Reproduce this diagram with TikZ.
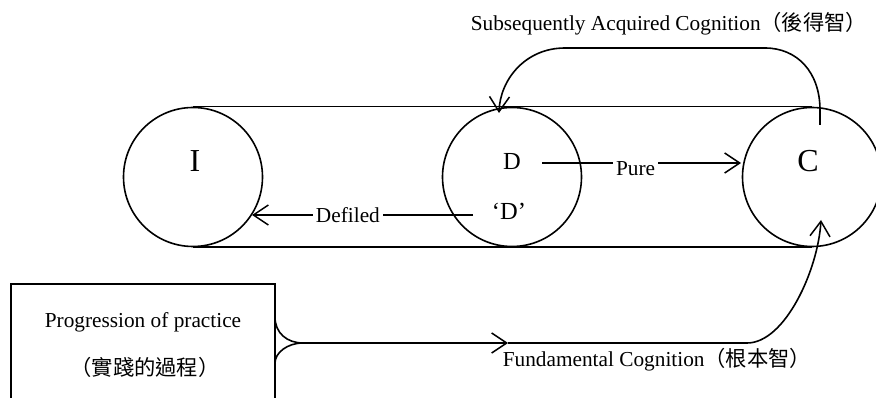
\documentclass[tikz,border=0pt]{standalone}
\usepackage{fontspec}
\setmainfont{Liberation Serif}
\newfontfamily\cjk{Noto Sans CJK TC}
\usetikzlibrary{arrows.meta}
\begin{document}
\begin{tikzpicture}[x=1pt,y=-1pt,
  line width=1.6pt,
  stage/.style={circle, draw, minimum size=139pt, inner sep=0},
  tip/.style={-{Straight Barb[length=15pt,width=20pt,line width=1.5pt]}},
  lbl/.style={font=\fontsize{21.3}{25}\selectfont, inner sep=0},
  bigl/.style={font=\fontsize{32}{36}\selectfont, inner sep=0, anchor=base},
  midl/.style={font=\fontsize{24.5}{28}\selectfont, inner sep=0, anchor=base},
  onl/.style={lbl, fill=white, inner xsep=3pt, inner ysep=1pt},
]
\clip (0,0) rectangle (876,398);

% the three stages and the band joining them
\node[stage] (I) at (193,177) {};
\node[stage] (D) at (512,177) {};
\node[stage] (C) at (812,177) {};
\draw (I.north) -- (C.north);
\draw (I.south) -- (C.south);

\node[bigl] (Ilab) at (195,172) {I};
\node[midl] (Dlab) at (512,170) {D};
\node[midl] (Dq) at (509,220) {‘D’};
\node[bigl] (Clab) at (808,172) {C};

% pure and defiled directions
\coordinate (pureS) at (542,163);
\coordinate (pureE) at (741,163);
\draw[tip] (pureS) -- node[onl, pos=0.47, yshift=-6pt] (pure) {Pure} (pureE);
\coordinate (defS) at (473,215);
\coordinate (defE) at (252,215);
\draw[tip] (defS) -- node[onl, pos=0.566] (defiled) {Defiled} (defE);

% subsequently acquired cognition: from C back to D
\coordinate (sacS) at (820,125);
\coordinate (sacE) at (499,113);
\draw[tip] (sacS) -- (820,110) .. controls (820,72) and (797,48) .. (765,48)
  -- (565,48) .. controls (525,48) and (500,80) .. (sacE);
\node[lbl, anchor=base west] (sac) at (470,31)
  {Subsequently Acquired Cognition{\cjk （後得智）}};

% progression of practice
\node[draw, minimum width=264pt, minimum height=130pt, inner sep=0] (prog) at (143,349) {};
\node[lbl, anchor=base] (progA) at (143,327) {Progression of practice};
\node[lbl, anchor=base] (progB) at (145,375) {\cjk （實踐的過程）};

% fundamental cognition: from the practice box up to C
\coordinate (brU) at (275,317);
\coordinate (brL) at (275,363);
\coordinate (brT) at (303,343);
\coordinate (fcM) at (508,343);
\coordinate (fcE) at (821,220);
\draw (brU) .. controls (275,333) and (287,343) .. (brT);
\draw (brL) .. controls (275,353) and (287,343) .. (brT);
\draw[tip] (brT) -- (fcM);
\draw[tip] (fcM) -- (747,343) .. controls (785,343) and (818,270) .. (fcE);
\node[lbl, anchor=base west] (fc) at (502,366)
  {Fundamental Cognition{\cjk （根本智）}};
\end{tikzpicture}
\end{document}
